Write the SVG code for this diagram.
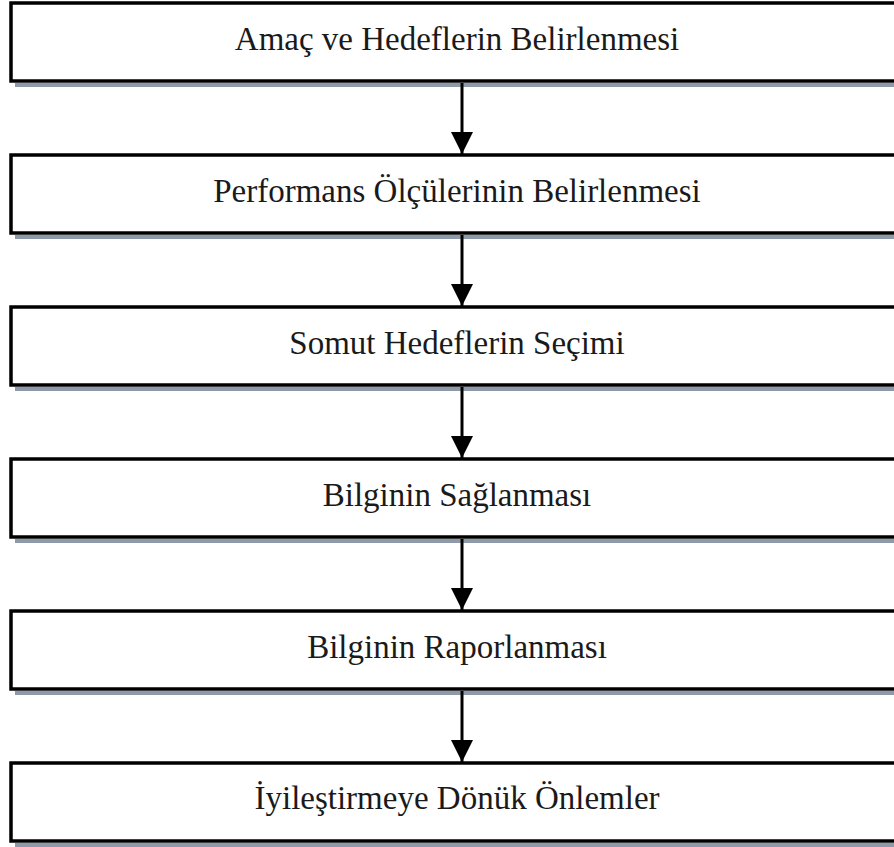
<svg xmlns="http://www.w3.org/2000/svg" width="894" height="847" viewBox="0 0 894 847">
<style>
.box{fill:#ffffff;stroke:#000000;stroke-width:3.5}
.shadow{fill:none;stroke:#8e99aa;stroke-width:4}
.lbl{font-family:"Liberation Serif","Times New Roman",serif;font-size:33px;fill:#1a1a1a;text-anchor:middle}
.conn{stroke:#000000;stroke-width:3;fill:none}
</style>
<defs>
<marker id="ah" markerUnits="userSpaceOnUse" markerWidth="24" markerHeight="25" refX="22" refY="11" orient="auto">
<path d="M0,0 L22,11 L0,22 Z" fill="#000000"/>
</marker>
</defs>
<rect width="894" height="847" fill="#ffffff"/>
<g id="node1"><line class="shadow" x1="15" y1="85" x2="900" y2="85"/><rect class="box" x="11" y="3" width="900" height="78"/><text class="lbl" x="457" y="49.5">Amaç ve Hedeflerin Belirlenmesi</text></g>
<g id="node2"><line class="shadow" x1="15" y1="237" x2="900" y2="237"/><rect class="box" x="11" y="155" width="900" height="78"/><text class="lbl" x="457" y="201.5">Performans Ölçülerinin Belirlenmesi</text></g>
<g id="node3"><line class="shadow" x1="15" y1="389" x2="900" y2="389"/><rect class="box" x="11" y="307" width="900" height="78"/><text class="lbl" x="457" y="353.5">Somut Hedeflerin Seçimi</text></g>
<g id="node4"><line class="shadow" x1="15" y1="541" x2="900" y2="541"/><rect class="box" x="11" y="459" width="900" height="78"/><text class="lbl" x="457" y="505.5">Bilginin Sağlanması</text></g>
<g id="node5"><line class="shadow" x1="15" y1="693" x2="900" y2="693"/><rect class="box" x="11" y="611" width="900" height="78"/><text class="lbl" x="457" y="657.5">Bilginin Raporlanması</text></g>
<g id="node6"><line class="shadow" x1="15" y1="845" x2="900" y2="845"/><rect class="box" x="11" y="763" width="900" height="78"/><text class="lbl" x="457" y="809">İyileştirmeye Dönük Önlemler</text></g>
<g id="connectors">
<line class="conn" x1="462" y1="83" x2="462" y2="154" marker-end="url(#ah)"/>
<line class="conn" x1="462" y1="235" x2="462" y2="306" marker-end="url(#ah)"/>
<line class="conn" x1="462" y1="387" x2="462" y2="458" marker-end="url(#ah)"/>
<line class="conn" x1="462" y1="539" x2="462" y2="610" marker-end="url(#ah)"/>
<line class="conn" x1="462" y1="691" x2="462" y2="762" marker-end="url(#ah)"/>
</g>
</svg>
